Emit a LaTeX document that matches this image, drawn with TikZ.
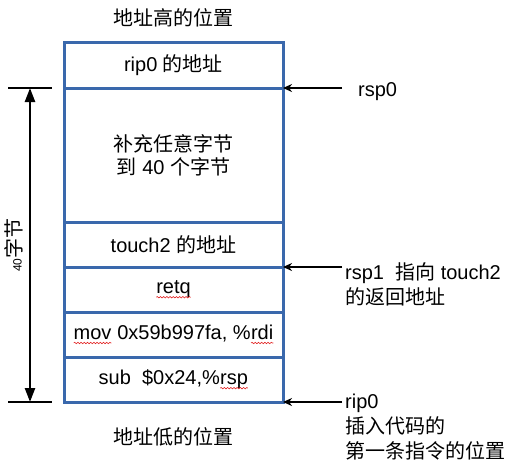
\documentclass[tikz,border=0pt]{standalone}
\usepackage{fontspec}
\setmainfont{Liberation Sans}
\newfontfamily\cjk{Noto Sans CJK SC}
\usepackage{tikz}
\usetikzlibrary{arrows.meta, positioning, calc, decorations.pathmorphing}
\definecolor{stackblue}{RGB}{58,104,172}
\definecolor{mydark}{RGB}{0,0,0}
\definecolor{squigred}{RGB}{225,30,30}
% red wavy mark under a word
\newcommand{\spellmark}[1]{\tikz[baseline=(sw.base)]{%
  \node[shape=rectangle, draw=none, fill=none, inner sep=0pt, outer sep=0pt,
    minimum width=0pt, minimum height=0pt] (sw) {#1};
  \draw[squigred, line width=0.6pt, decorate,
    decoration={snake, amplitude=0.7pt, segment length=3.2pt}]
    ([yshift=-3.5pt]sw.base west) -- ([yshift=-3.5pt]sw.base east);}}
\tikzset{
  stackrow/.style={rectangle, draw=stackblue, line width=3pt,
    minimum width=219pt, outer sep=0pt, inner sep=0pt, align=center,
    font=\fontsize{20}{23}\selectfont, text=mydark},
  label/.style={inner sep=0pt, align=left, anchor=north west,
    font=\fontsize{20}{25}\selectfont, text=mydark},
  caption/.style={inner sep=0pt, font=\fontsize{20}{24}\selectfont, text=mydark},
  ptrarrow/.style={-{Stealth[length=9pt,width=8pt]}, line width=2.6pt, color=mydark},
  dimarrow/.style={{Triangle[length=14pt,width=10pt]}-{Triangle[length=14pt,width=10pt]}, line width=2.4pt, color=mydark},
  dimtick/.style={line width=2.4pt, color=mydark}
}
\begin{document}
\begin{tikzpicture}[x=1pt,y=-1pt]
  \useasboundingbox (0,0) rectangle (516,466);

  % Stack frame rows
  \node[stackrow, minimum height=46pt] (ripaddr) at (173.5,65) {rip0 {\cjk 的地址}};
  \node[stackrow, minimum height=134pt, below=0pt of ripaddr] (padding)
    {{\cjk 补充任意字节}\\{\cjk 到} 40 {\cjk 个字节}};
  \node[stackrow, minimum height=45pt, below=0pt of padding] (touchaddr) {touch2 {\cjk 的地址}};
  \node[stackrow, minimum height=45pt, below=0pt of touchaddr] (retrow) {\spellmark{retq}};
  \node[stackrow, minimum height=45pt, below=0pt of retrow] (movrow)
    {\spellmark{mov} 0x59b997fa, \%\spellmark{rdi}};
  \node[stackrow, minimum height=45pt, below=0pt of movrow] (subrow)
    {sub\ \ \$0x24,\%\spellmark{rsp}};

  % Captions above and below
  \node[caption, above=15pt of ripaddr] (hightitle) {\cjk 地址高的位置};
  \node[caption, below=25pt of subrow] (lowtitle) {\cjk 地址低的位置};

  % Pointers on the right
  \coordinate (rsp0tail) at (342,88);
  \coordinate (rsp1tail) at (342,267);
  \coordinate (rip0tail) at (342,402);
  \draw[ptrarrow] (rsp0tail) -- (ripaddr.south east);
  \draw[ptrarrow] (rsp1tail) -- (touchaddr.south east);
  \draw[ptrarrow] (rip0tail) -- (subrow.south east);
  \node[label] (rsp0lbl) at (358,82) {rsp0};
  \node[label] (rsp1lbl) at (345,262) {rsp1\ \ {\cjk 指向} touch2\\{\cjk 的返回地址}};
  \node[label] (rip0lbl) at (345,394) {rip0\\{\cjk 插入代码的}\\{\cjk 第一条指令的位置}};

  % 40-byte span on the left
  \coordinate (dimtop) at (30,0 |- ripaddr.south);
  \coordinate (dimbot) at (30,0 |- subrow.south);
  \draw[dimtick] ([xshift=-22pt]dimtop) -- ([xshift=22pt]dimtop);
  \draw[dimtick] ([xshift=-22pt]dimbot) -- ([xshift=22pt]dimbot);
  \draw[dimarrow] (dimtop) -- (dimbot);
  \node[caption, rotate=90] (spanlbl) at ($(dimtop)!0.5!(dimbot) + (-16,0)$)
    {{\fontsize{12}{12}\selectfont 40}{\cjk 字节}};
\end{tikzpicture}
\end{document}
